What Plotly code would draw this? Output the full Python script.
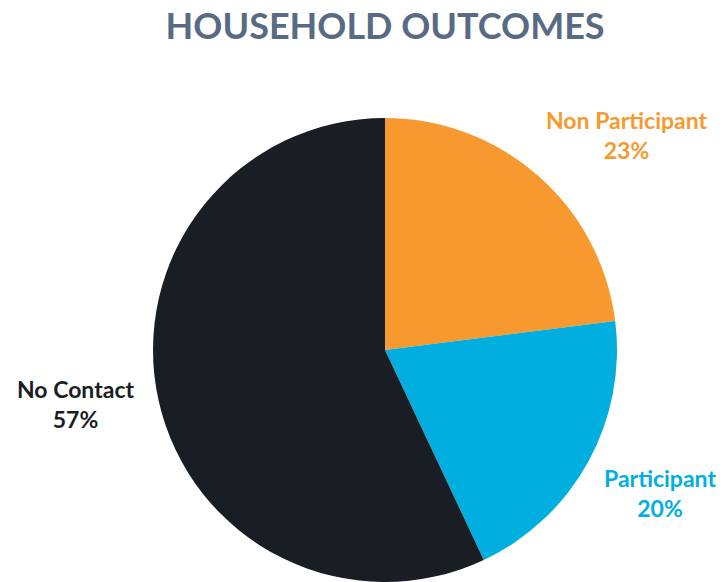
import plotly.graph_objects as go

# Household outcome shares (percent)
categories = ["Non Participant", "Participant", "No Contact"]
shares = [23, 20, 57]
slice_colors = ["#F7992E", "#00AEDF", "#191D24"]

fig = go.Figure()
fig.add_trace(go.Pie(
    labels=categories,
    values=shares,
    sort=False,
    direction="clockwise",
    rotation=0,
    marker=dict(colors=slice_colors, line=dict(width=0)),
    textinfo="none",
    hoverinfo="label+percent",
    showlegend=False,
))

# Outside labels: name on one line, share below, in the slice colour
label_pos = {
    "Non Participant": (1.021, 0.963),
    "Participant": (1.093, 0.191),
    "No Contact": (-0.168, 0.383),
}
for name, val, col in zip(categories, shares, slice_colors):
    x, y = label_pos[name]
    fig.add_annotation(
        x=x, y=y, xref="paper", yref="paper",
        xanchor="center", yanchor="middle",
        text=f"<b>{name}<br>{val}%</b>",
        showarrow=False,
        font=dict(family="Lato, Open Sans, sans-serif", size=23, color=col),
        align="center",
    )

fig.update_layout(
    width=728, height=582,
    paper_bgcolor="white", plot_bgcolor="white",
    margin=dict(l=153, r=111, t=118, b=0),
    title=dict(
        text="<b>HOUSEHOLD OUTCOMES</b>",
        x=0.529, xanchor="center", y=0.955, yanchor="middle",
        font=dict(family="Lato, Open Sans, sans-serif", size=36, color="#586B85"),
    ),
)

fig.write_html("out.html")
